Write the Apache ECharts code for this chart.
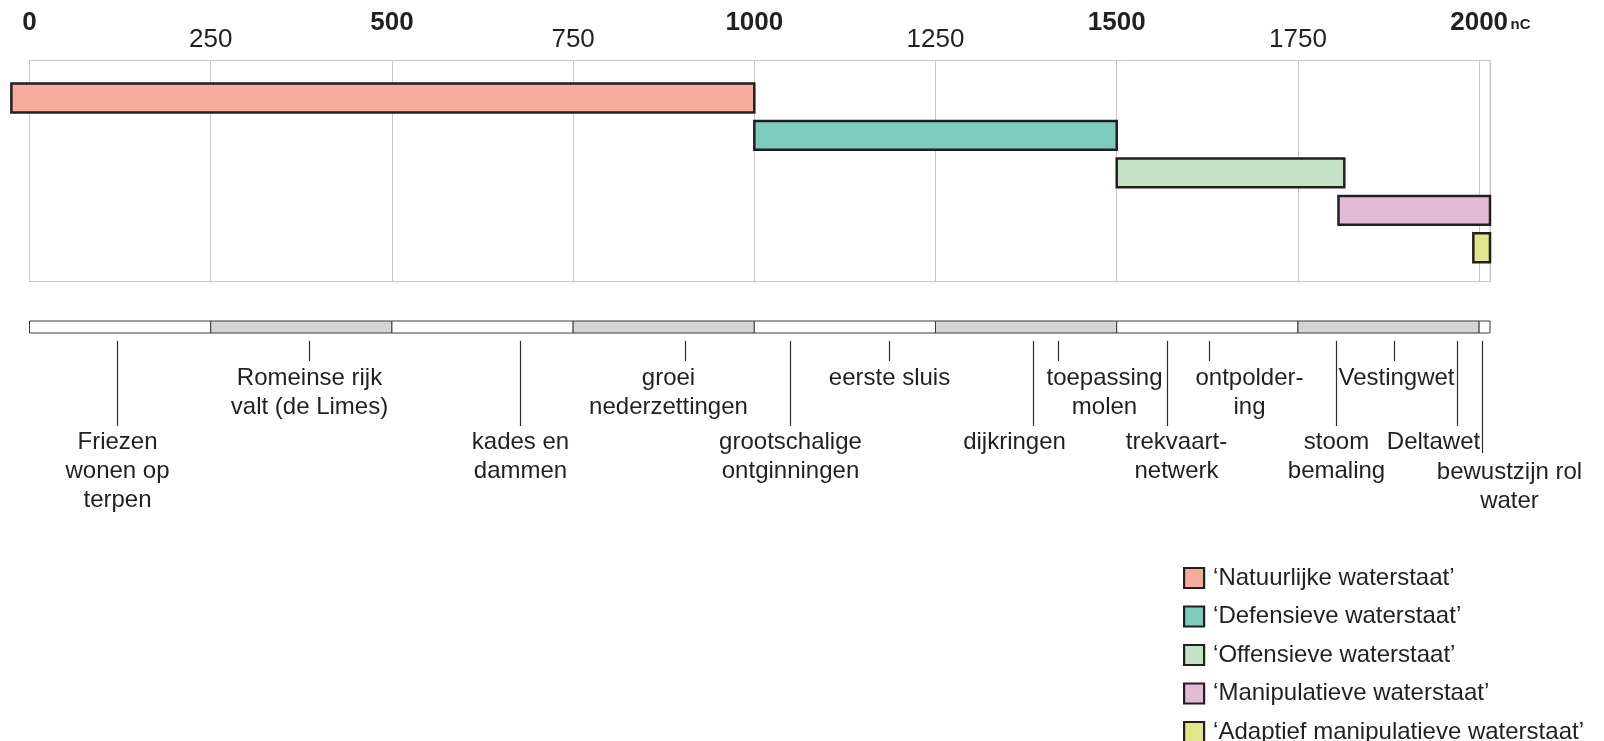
<!DOCTYPE html>
<html>
<head>
<meta charset="utf-8">
<script src="https://cdn.jsdelivr.net/npm/echarts@6/dist/echarts.min.js"></script>
<style>
html,body{margin:0;padding:0;background:#fff;}
#chart{width:1604px;height:741px;}
</style>
</head>
<body>
<div id="chart"></div>
<script>
// ---------------- DATA ----------------
const phaseNames = [
  '\u2018Natuurlijke waterstaat\u2019',
  '\u2018Defensieve waterstaat\u2019',
  '\u2018Offensieve waterstaat\u2019',
  '\u2018Manipulatieve waterstaat\u2019',
  '\u2018Adaptief manipulatieve waterstaat\u2019'
];
const phaseStart = [-25, 1000, 1500, 1806, 1992];
const phaseEnd   = [1000, 1500, 1814, 2015, 2015];
const phaseRow   = [1, 2, 3, 4, 5];

const tickValues = [0, 250, 500, 750, 1000, 1250, 1500, 1750, 2000];
const majorTickValues = [0, 500, 1000, 1500, 2000];
const axisUnit = 'nC';
const axisMin = 0;
const axisMax = 2015;

const eraStart = [0, 250, 500, 750, 1000, 1250, 1500, 1750, 2000];
const eraEnd   = [250, 500, 750, 1000, 1250, 1500, 1750, 2000, 2015];
const eraShaded = [0, 1, 0, 1, 0, 1, 0, 1, 0];

const eventYears = [121, 386, 677, 905, 1049, 1186, 1385, 1419, 1570, 1628, 1802, 1883, 1969, 2004];
const eventLabels = [
  'Friezen\nwonen op\nterpen',
  'Romeinse rijk\nvalt (de Limes)',
  'kades en\ndammen',
  'groei\nnederzettingen',
  'grootschalige\nontginningen',
  'eerste sluis',
  'dijkringen',
  'toepassing\nmolen',
  'trekvaart-\nnetwerk',
  'ontpolder-\ning',
  'stoom\nbemaling',
  'Vestingwet',
  'Deltawet',
  'bewustzijn rol\nwater'
];
const eventTier = [2, 1, 2, 1, 2, 1, 2, 1, 2, 1, 2, 1, 2, 3];

// ---------------- STYLE / LAYOUT ----------------
const phaseColors = ['#F7AB9D', '#7DCCBE', '#C2E2C3', '#E3BBD6', '#E0E68A'];
const INK = '#231F20';
const FONT = '"Liberation Sans", Arial, Helvetica, sans-serif';
const labelNudgePx = {3: -17, 6: -19, 7: 46, 8: 9, 9: 40, 11: 2, 12: -24, 13: 27};
const tierLineEnd = {1: 28, 2: 93, 3: 120};
const tierTextTop = {1: 31, 2: 95, 3: 125};

const chart = echarts.init(document.getElementById('chart'), null, {renderer: 'canvas'});

const phaseSeries = phaseNames.map((name, i) => ({
  name: name,
  type: 'custom',
  xAxisIndex: 0,
  yAxisIndex: 0,
  clip: false,
  itemStyle: {color: phaseColors[i], borderColor: INK, borderWidth: 2},
  encode: {x: [0, 1], y: 2},
  data: [[phaseStart[i], phaseEnd[i], phaseRow[i]]],
  renderItem: function (params, api) {
    const s = api.coord([api.value(0), api.value(2)]);
    const e = api.coord([api.value(1), api.value(2)]);
    const h = api.size([0, 1])[1] * 0.77;
    return {
      type: 'rect',
      shape: {x: s[0], y: s[1] - h / 2, width: e[0] - s[0], height: h},
      style: {fill: phaseColors[i], stroke: INK, lineWidth: 2.5}
    };
  }
}));

const eraSeries = {
  name: 'era',
  type: 'custom',
  xAxisIndex: 1,
  yAxisIndex: 1,
  clip: false,
  silent: true,
  data: eraStart.map((s, i) => [s, eraEnd[i], eraShaded[i]]),
  renderItem: function (params, api) {
    const a = api.coord([api.value(0), 1]);
    const b = api.coord([api.value(1), 0]);
    return {
      type: 'rect',
      shape: {x: a[0], y: a[1], width: b[0] - a[0], height: b[1] - a[1]},
      style: {fill: api.value(2) ? '#D3D4D6' : '#FFFFFF', stroke: '#3A3A3A', lineWidth: 1}
    };
  }
};

const eventSeries = {
  name: 'events',
  type: 'custom',
  xAxisIndex: 1,
  yAxisIndex: 1,
  clip: false,
  silent: true,
  data: eventYears.map((y, i) => [y, eventTier[i], i]),
  renderItem: function (params, api) {
    const idx = api.value(2);
    const tier = api.value(1);
    const x = Math.round(api.coord([api.value(0), 0])[0]) + 0.5;
    const base = params.coordSys.y + params.coordSys.height;
    const nudge = labelNudgePx[idx] || 0;
    return {
      type: 'group',
      children: [
        {
          type: 'line',
          shape: {x1: x, y1: base + 8, x2: x, y2: base + tierLineEnd[tier]},
          style: {stroke: '#2B2B2B', lineWidth: 1.2}
        },
        {
          type: 'text',
          x: x + nudge,
          y: base + tierTextTop[tier],
          style: {
            text: eventLabels[idx],
            align: 'center',
            verticalAlign: 'top',
            fontSize: 24,
            lineHeight: 29,
            fontFamily: FONT,
            fill: INK
          }
        }
      ]
    };
  }
};

const option = {
  backgroundColor: '#ffffff',
  animation: false,
  textStyle: {fontFamily: FONT},
  grid: [
    {left: 29.5, right: 114, top: 60.5, height: 221, show: true, borderColor: '#C8C8C8', borderWidth: 1, containLabel: false},
    {left: 29.5, right: 114, top: 321, height: 12, show: false, containLabel: false}
  ],
  xAxis: [
    {
      type: 'value', gridIndex: 0, position: 'top', min: axisMin, max: axisMax, interval: 250,
      axisLine: {show: false}, axisTick: {show: false},
      splitLine: {show: true, lineStyle: {color: '#C8C8C8', width: 1}},
      axisLabel: {
        show: true, margin: 8,
        formatter: function (v) {
          if (majorTickValues.indexOf(v) >= 0) {
            if (v === majorTickValues[majorTickValues.length - 1]) return '{p|}{b|' + v + '}{n|' + axisUnit + '}';
            return '{b|' + v + '}';
          }
          if (tickValues.indexOf(v) >= 0) return '{r|' + v + '}';
          return '';
        },
        rich: {
          b: {fontSize: 26, fontWeight: 'bold', color: INK, fontFamily: FONT, padding: [0, 0, 17, 0]},
          r: {fontSize: 26, color: INK, fontFamily: FONT},
          n: {fontSize: 15, fontWeight: 'bold', color: INK, fontFamily: FONT, padding: [0, 0, 13, 2], width: 21, align: 'left'},
          p: {width: 23, fontSize: 15}
        }
      }
    },
    {
      type: 'value', gridIndex: 1, min: axisMin, max: axisMax, interval: 250, show: false
    }
  ],
  yAxis: [
    {type: 'value', gridIndex: 0, inverse: true, min: 0, max: 5.9, show: false},
    {type: 'value', gridIndex: 1, min: 0, max: 1, show: false}
  ],
  legend: {
    orient: 'vertical',
    left: 1183,
    top: 566,
    height: 200,
    padding: 0,
    itemWidth: 20,
    itemHeight: 20,
    itemGap: 14.5,
    icon: 'rect',
    selectedMode: false,
    data: phaseNames,
    itemStyle: {borderColor: INK, borderWidth: 2.2},
    textStyle: {fontSize: 24, color: INK, fontFamily: FONT, lineHeight: 24, padding: [0, 0, 0, 4]}
  },
  series: phaseSeries.concat([eraSeries, eventSeries])
};

chart.setOption(option);
</script>
</body>
</html>
